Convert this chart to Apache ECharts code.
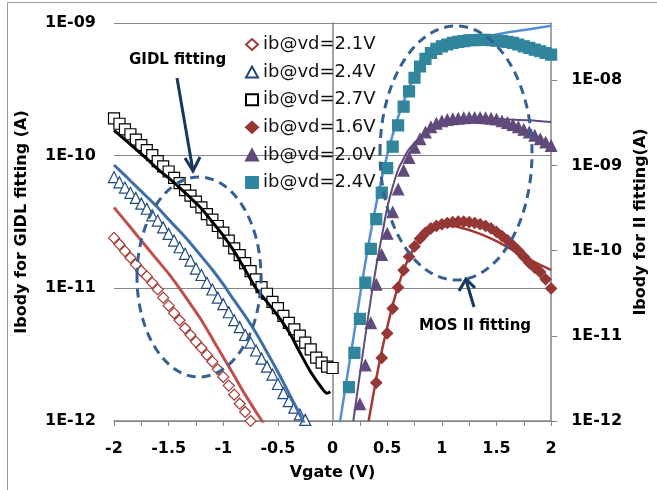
<!DOCTYPE html>
<html>
<head>
<meta charset="utf-8">
<script src="https://cdn.jsdelivr.net/npm/echarts@6/dist/echarts.min.js"></script>
<style>
  html, body { margin: 0; padding: 0; background: #fff; }
  #chart { width: 657px; height: 490px; }
</style>
</head>
<body>
<div id="chart"></div>
<script>
// GIDL side (left axis), measured points
const gidlVg = [-2, -1.95, -1.9, -1.85, -1.8, -1.75, -1.7, -1.65, -1.6, -1.55, -1.5, -1.45, -1.4, -1.35, -1.3, -1.25, -1.2, -1.15, -1.1, -1.05, -1, -0.95, -0.9, -0.85, -0.8, -0.75, -0.7, -0.65, -0.6, -0.55, -0.5, -0.45, -0.4, -0.35, -0.3, -0.25, -0.2, -0.15, -0.1, -0.05, 0];
const ib21 = [2.40e-11, 2.14e-11, 1.91e-11, 1.70e-11, 1.51e-11, 1.35e-11, 1.23e-11, 1.10e-11, 9.8e-12, 8.5e-12, 7.4e-12, 6.5e-12, 5.75e-12, 5.0e-12, 4.45e-12, 3.95e-12, 3.55e-12, 3.15e-12, 2.8e-12, 2.45e-12, 2.15e-12, 1.85e-12, 1.58e-12, 1.35e-12, 1.17e-12, 1.0e-12];
const ib24 = [6.9e-11, 6.3e-11, 5.75e-11, 5.25e-11, 4.8e-11, 4.35e-11, 3.98e-11, 3.55e-11, 3.24e-11, 2.88e-11, 2.57e-11, 2.29e-11, 2.04e-11, 1.82e-11, 1.62e-11, 1.41e-11, 1.26e-11, 1.10e-11, 9.8e-12, 8.5e-12, 7.6e-12, 6.6e-12, 5.75e-12, 5.1e-12, 4.45e-12, 3.9e-12, 3.4e-12, 2.95e-12, 2.57e-12, 2.24e-12, 1.9e-12, 1.62e-12, 1.41e-12, 1.26e-12, 1.12e-12, 1.02e-12];
const ib27 = [1.91e-10, 1.74e-10, 1.58e-10, 1.45e-10, 1.32e-10, 1.20e-10, 1.10e-10, 1.01e-10, 9.1e-11, 8.3e-11, 7.6e-11, 6.8e-11, 6.2e-11, 5.5e-11, 5.0e-11, 4.5e-11, 4.07e-11, 3.63e-11, 3.3e-11, 2.95e-11, 2.63e-11, 2.29e-11, 2.0e-11, 1.78e-11, 1.55e-11, 1.35e-11, 1.17e-11, 1.02e-11, 9.1e-12, 7.9e-12, 7.1e-12, 6.2e-12, 5.5e-12, 4.9e-12, 4.4e-12, 3.9e-12, 3.47e-12, 3.0e-12, 2.75e-12, 2.57e-12, 2.51e-12];

// GIDL fitting curves
const fit21Vg = [-2, -1.9, -1.8, -1.7, -1.6, -1.5, -1.4, -1.3, -1.2, -1.1, -1, -0.9, -0.8, -0.7, -0.62];
const fit21 = [4.07e-11, 3.24e-11, 2.57e-11, 2.04e-11, 1.62e-11, 1.29e-11, 1.0e-11, 7.6e-12, 5.75e-12, 4.17e-12, 3.02e-12, 2.19e-12, 1.58e-12, 1.17e-12, 9.3e-13];
const fit24Vg = [-2, -1.9, -1.8, -1.7, -1.6, -1.5, -1.4, -1.3, -1.2, -1.1, -1, -0.9, -0.8, -0.7, -0.6, -0.5, -0.4, -0.3, -0.25];
const fit24 = [8.5e-11, 7.1e-11, 5.9e-11, 4.9e-11, 4.07e-11, 3.3e-11, 2.7e-11, 2.19e-11, 1.74e-11, 1.38e-11, 1.07e-11, 8.1e-12, 6.2e-12, 4.6e-12, 3.3e-12, 2.34e-12, 1.62e-12, 1.12e-12, 9.3e-13];
const fit27Vg = [-2, -1.9, -1.8, -1.7, -1.6, -1.5, -1.4, -1.3, -1.2, -1.1, -1, -0.9, -0.8, -0.7, -0.6, -0.5, -0.4, -0.3, -0.2, -0.1, -0.05, -0.02];
const fit27 = [1.55e-10, 1.32e-10, 1.12e-10, 9.5e-11, 7.9e-11, 6.8e-11, 5.75e-11, 4.8e-11, 4.0e-11, 3.16e-11, 2.5e-11, 1.9e-11, 1.38e-11, 1.0e-11, 7.9e-12, 6.2e-12, 4.7e-12, 3.3e-12, 2.34e-12, 1.78e-12, 1.62e-12, 1.66e-12];

// impact ionisation side (right axis), measured points
const iiVg = [0.15, 0.2, 0.25, 0.3, 0.35, 0.4, 0.45, 0.5, 0.55, 0.6, 0.65, 0.7, 0.75, 0.8, 0.85, 0.9, 0.95, 1, 1.05, 1.1, 1.15, 1.2, 1.25, 1.3, 1.35, 1.4, 1.45, 1.5, 1.55, 1.6, 1.65, 1.7, 1.75, 1.8, 1.85, 1.9, 1.95, 2];
const ib16 = [2.82e-12, 5.5e-12, 1.07e-11, 2.09e-11, 3.7e-11, 5.9e-11, 8.5e-11, 1.12e-10, 1.38e-10, 1.62e-10, 1.82e-10, 1.95e-10, 2.04e-10, 2.11e-10, 2.16e-10, 2.19e-10, 2.19e-10, 2.16e-10, 2.11e-10, 2.04e-10, 1.95e-10, 1.82e-10, 1.66e-10, 1.48e-10, 1.32e-10, 1.15e-10, 1.0e-10, 8.5e-11, 7.2e-11, 6.3e-11, 5.6e-11, 4.6e-11, 3.6e-11];
const ib20 = [1.58e-12, 4.5e-12, 1.41e-11, 4.0e-11, 8.9e-11, 1.58e-10, 2.82e-10, 5.25e-10, 8.7e-10, 1.23e-9, 1.62e-9, 2.04e-9, 2.45e-9, 2.82e-9, 3.1e-9, 3.3e-9, 3.43e-9, 3.5e-9, 3.55e-9, 3.6e-9, 3.63e-9, 3.63e-9, 3.63e-9, 3.6e-9, 3.55e-9, 3.47e-9, 3.3e-9, 3.16e-9, 3.0e-9, 2.82e-9, 2.63e-9, 2.45e-9, 2.24e-9, 2.04e-9, 1.86e-9, 1.7e-9];
const ib24ii = [2.5e-12, 6.3e-12, 1.58e-11, 4.2e-11, 1.05e-10, 2.34e-10, 4.8e-10, 9.3e-10, 1.66e-9, 2.95e-9, 4.9e-9, 7.4e-9, 1.07e-8, 1.45e-8, 1.78e-8, 2.09e-8, 2.34e-8, 2.5e-8, 2.63e-8, 2.75e-8, 2.82e-8, 2.88e-8, 2.95e-8, 2.95e-8, 2.98e-8, 2.98e-8, 2.95e-8, 2.92e-8, 2.88e-8, 2.82e-8, 2.75e-8, 2.63e-8, 2.5e-8, 2.4e-8, 2.29e-8, 2.19e-8, 2.09e-8, 2.0e-8];

// MOS II fitting curves
const fit16Vg = [0.33, 0.4, 0.45, 0.5, 0.55, 0.6, 0.65, 0.7, 0.75, 0.8, 0.9, 1, 1.1, 1.2, 1.3, 1.4, 1.5, 1.6, 1.7, 1.8, 1.9, 2];
const fit16 = [1e-12, 3.16e-12, 6.6e-12, 1.26e-11, 2.29e-11, 3.8e-11, 5.9e-11, 8.3e-11, 1.1e-10, 1.35e-10, 1.74e-10, 1.95e-10, 1.95e-10, 1.82e-10, 1.66e-10, 1.48e-10, 1.29e-10, 1.1e-10, 9.3e-11, 7.9e-11, 6.8e-11, 5.9e-11];
const fit20Vg = [0.19, 0.25, 0.3, 0.35, 0.4, 0.45, 0.5, 0.55, 0.6, 0.65, 0.7, 0.8, 0.9, 1, 1.2, 1.4, 1.6, 1.8, 2];
const fit20 = [1e-12, 3.55e-12, 1e-11, 2.7e-11, 6.6e-11, 1.45e-10, 3.16e-10, 5.6e-10, 8.9e-10, 1.2e-9, 1.55e-9, 2.14e-9, 2.69e-9, 3.1e-9, 3.47e-9, 3.55e-9, 3.47e-9, 3.4e-9, 3.24e-9];
const fit24iiVg = [0.05, 0.1, 0.15, 0.2, 0.25, 0.3, 0.35, 0.4, 0.45, 0.5, 0.55, 0.6, 0.65, 0.7, 0.75, 0.8, 0.9, 1, 1.2, 1.4, 1.6, 1.8, 2];
const fit24ii = [6.9e-13, 1.78e-12, 4.5e-12, 1.12e-11, 2.9e-11, 7.2e-11, 1.66e-10, 3.55e-10, 7.1e-10, 1.32e-9, 2.29e-9, 3.7e-9, 5.6e-9, 8.1e-9, 1.1e-8, 1.38e-8, 1.9e-8, 2.29e-8, 2.82e-8, 3.24e-8, 3.63e-8, 3.98e-8, 4.37e-8];

// the last name has a trailing space so the two 2.4V entries stay separate
const legendNames = ['ib@vd=2.1V', 'ib@vd=2.4V', 'ib@vd=2.7V', 'ib@vd=1.6V', 'ib@vd=2.0V', 'ib@vd=2.4V '];

const pairs = (xs, ys) => ys.map((y, i) => [xs[i], y]);

const sci = (v) => {
    const l = Math.log10(v);
    const e = Math.round(l);
    if (Math.abs(l - e) > 1e-6) return '';
    return '1E' + (e < 0 ? '-' : '+') + String(Math.abs(e)).padStart(2, '0');
};

const FONT = 'DejaVu Sans';
const axisGray = '#868686';

const marker = (name, symbol, size, data, yIdx, fill, border) => ({
    name: name,
    type: 'scatter',
    yAxisIndex: yIdx,
    symbol: symbol,
    symbolSize: size,
    data: data,
    itemStyle: { color: fill, borderColor: border, borderWidth: 1.2, opacity: 1 },
    z: 3
});

const fitLine = (name, data, yIdx, color, width, z) => ({
    name: name,
    type: 'line',
    yAxisIndex: yIdx,
    data: data,
    smooth: 0.3,
    showSymbol: false,
    symbol: 'none',
    lineStyle: { color: color, width: width },
    z: z
});

const chart = echarts.init(document.getElementById('chart'));

const option = {
    animation: false,
    backgroundColor: '#fff',
    grid: { left: 114, right: 102, top: 23, bottom: 69 },
    legend: {
        data: legendNames,
        orient: 'vertical',
        left: 240,
        top: 30,
        itemWidth: 12,
        itemHeight: 11,
        itemGap: 8.6,
        textStyle: { fontFamily: FONT, fontSize: 18, color: '#111', lineHeight: 19 }
    },
    xAxis: {
        type: 'value',
        min: -2,
        max: 2,
        interval: 0.5,
        name: 'Vgate (V)',
        nameLocation: 'middle',
        nameGap: 44,
        nameTextStyle: { fontFamily: FONT, fontSize: 16, fontWeight: 'bold', color: '#000' },
        axisLine: { lineStyle: { color: axisGray, width: 1.5 } },
        axisTick: { show: true, length: 5, lineStyle: { color: axisGray } },
        minorTick: { show: true, splitNumber: 2, length: 5, lineStyle: { color: axisGray } },
        splitLine: { show: false },
        axisLabel: { margin: 20, fontFamily: FONT, fontSize: 16, fontWeight: 'bold', color: '#000' }
    },
    yAxis: [
        {
            type: 'log',
            logBase: 10,
            min: 1e-12,
            max: 1e-9,
            position: 'left',
            name: 'Ibody for GIDL fitting (A)',
            nameLocation: 'middle',
            nameRotate: 90,
            nameGap: 84,
            nameTextStyle: { fontFamily: FONT, fontSize: 16, fontWeight: 'bold', color: '#000' },
            axisLine: { show: true, lineStyle: { color: axisGray, width: 1.5 } },
            axisTick: { show: true, length: 6, lineStyle: { color: axisGray } },
            splitLine: { show: true, lineStyle: { color: axisGray, width: 1 } },
            axisLabel: { margin: 18, formatter: sci, fontFamily: FONT, fontSize: 16, fontWeight: 'bold', color: '#000' }
        },
        {
            type: 'log',
            logBase: 10,
            min: 1e-12,
            max: 4.7e-8,
            position: 'right',
            name: 'Ibody for II fitting(A)',
            nameLocation: 'middle',
            nameRotate: 90,
            nameGap: 81,
            nameTextStyle: { fontFamily: FONT, fontSize: 16, fontWeight: 'bold', color: '#000' },
            axisLine: { show: true, lineStyle: { color: axisGray, width: 1.5 } },
            axisTick: { show: true, length: 6, lineStyle: { color: axisGray } },
            splitLine: { show: false },
            axisLabel: { margin: 20, formatter: sci, showMaxLabel: false, fontFamily: FONT, fontSize: 16, fontWeight: 'bold', color: '#000' }
        }
    ],
    series: [
        fitLine('fit 1.6V', pairs(fit16Vg, fit16), 1, '#A33834', 2.5, 2),
        fitLine('fit 2.0V', pairs(fit20Vg, fit20), 1, '#604A7B', 2, 2),
        fitLine('fit 2.4V II', pairs(fit24iiVg, fit24ii), 1, '#558ED5', 2.5, 2),
        marker(legendNames[0], 'diamond', 11, pairs(gidlVg, ib21), 0, '#fff', '#A33A37'),
        marker(legendNames[1], 'triangle', 11, pairs(gidlVg, ib24), 0, '#fff', '#1F497D'),
        marker(legendNames[2], 'rect', 11, pairs(gidlVg, ib27), 0, '#fff', '#000'),
        marker(legendNames[3], 'diamond', 11, pairs(iiVg.slice(5), ib16), 1, '#953735', '#953735'),
        marker(legendNames[4], 'triangle', 11, pairs(iiVg.slice(2), ib20), 1, '#604A7B', '#604A7B'),
        marker(legendNames[5], 'rect', 11, pairs(iiVg, ib24ii), 1, '#31859C', '#31859C'),
        fitLine('fit 2.1V', pairs(fit21Vg, fit21), 0, '#C0504D', 3, 4),
        fitLine('fit 2.4V', pairs(fit24Vg, fit24), 0, '#3F6FAA', 3, 4),
        fitLine('fit 2.7V', pairs(fit27Vg, fit27), 0, '#000', 3, 4)
    ],
    graphic: [
        { type: 'rect', shape: { x: 7.5, y: 2.5, width: 700, height: 600 }, style: { fill: 'none', stroke: '#9a9a9a', lineWidth: 1 }, z: 0 },
        { type: 'ellipse', shape: { cx: 199, cy: 277, rx: 62, ry: 100 }, style: { fill: 'none', stroke: '#376092', lineWidth: 3, lineDash: [9, 6] }, z: 10 },
        { type: 'ellipse', shape: { cx: 456, cy: 153, rx: 76, ry: 127 }, style: { fill: 'none', stroke: '#376092', lineWidth: 3, lineDash: [9, 6] }, z: 10 },
        { type: 'text', left: 129, top: 53, style: { text: 'GIDL fitting', font: 'bold 15px "DejaVu Sans"', fill: '#000' }, z: 10 },
        { type: 'polyline', shape: { points: [[177, 78], [193, 171]] }, style: { stroke: '#17375E', lineWidth: 3, fill: 'none' }, z: 10 },
        { type: 'polyline', shape: { points: [[185, 158], [193, 171], [200, 157]] }, style: { stroke: '#17375E', lineWidth: 3, fill: 'none' }, z: 10 },
        { type: 'text', left: 419, top: 319, style: { text: 'MOS II fitting', font: 'bold 15px "DejaVu Sans"', fill: '#000' }, z: 10 },
        { type: 'polyline', shape: { points: [[474, 307], [466, 280]] }, style: { stroke: '#17375E', lineWidth: 3, fill: 'none' }, z: 10 },
        { type: 'polyline', shape: { points: [[459, 291], [466, 279], [475, 288]] }, style: { stroke: '#17375E', lineWidth: 3, fill: 'none' }, z: 10 }
    ]
};

chart.setOption(option);
</script>
</body>
</html>
